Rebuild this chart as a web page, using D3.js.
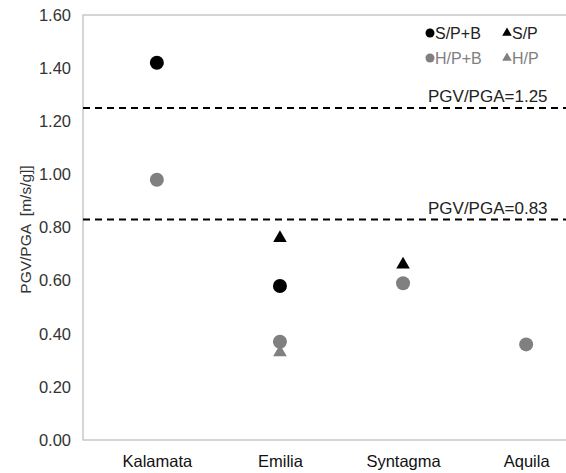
<!DOCTYPE html>
<html>
<head>
<meta charset="utf-8">
<script src="https://cdn.jsdelivr.net/npm/d3@7"></script>
<style>
  html, body { margin: 0; padding: 0; background: #fff; }
  svg { display: block; font-family: "Liberation Sans", Arial, sans-serif; }
</style>
</head>
<body>
<svg id="chart" width="566" height="473"></svg>
<script>
// Sites along the horizontal axis
const sites = ["Kalamata", "Emilia", "Syntagma", "Aquila"];

// PGV/PGA ratios per site and configuration (null = no value)
const spB = [1.42, 0.58, null, null];   // S/P+B  (black circle)
const sp  = [null, 0.76, 0.66, null];   // S/P    (black triangle)
const hpB = [0.98, 0.37, 0.59, 0.36];   // H/P+B  (grey circle)
const hp  = [null, 0.33, null, null];   // H/P    (grey triangle)

const yTicks = [0, 0.2, 0.4, 0.6, 0.8, 1.0, 1.2, 1.4, 1.6];

// Reference ratios drawn as dashed lines
const refValues = [1.25, 0.83];
const refLabels = ["PGV/PGA=1.25", "PGV/PGA=0.83"];

const svg = d3.select("#chart");
const plotLeft = 83, plotTop = 15, plotBottom = 440, plotRight = 600;

const x = d3.scalePoint().domain(sites).range([plotLeft, plotRight]).padding(0.6);
const y = d3.scaleLinear().domain([0, 1.6]).range([plotBottom, plotTop]);

const BLACK = "#000000", GREY = "#808080", FRAME = "#bfbfbf";

// Plot frame (right side runs past the view)
svg.append("rect")
  .attr("x", plotLeft).attr("y", plotTop)
  .attr("width", plotRight - plotLeft).attr("height", plotBottom - plotTop)
  .attr("fill", "none").attr("stroke", FRAME).attr("stroke-width", 1.3);

// Y axis labels
const yAxis = d3.axisLeft(y).tickValues(yTicks).tickFormat(d3.format(".2f")).tickSize(0).tickPadding(12);
const gy = svg.append("g").attr("transform", `translate(${plotLeft},0)`).call(yAxis);
gy.select(".domain").remove();
gy.selectAll("text").attr("font-size", 16.5).attr("fill", "#333").attr("font-family", "Liberation Sans, Arial, sans-serif");

// X axis labels
const xAxis = d3.axisBottom(x).tickSize(0).tickPadding(15);
const gx = svg.append("g").attr("transform", `translate(0,${plotBottom})`).call(xAxis);
gx.select(".domain").remove();
gx.selectAll("text").attr("font-size", 16.5).attr("fill", "#111").attr("font-family", "Liberation Sans, Arial, sans-serif");

// Y axis title
svg.append("text")
  .attr("transform", `translate(31,${(plotTop + plotBottom) / 2 + 2}) rotate(-90)`)
  .attr("text-anchor", "middle")
  .attr("font-size", 15.5).attr("fill", "#333")
  .attr("xml:space", "preserve")
  .text("PGV/PGA  [m/s/g]]");

// Reference lines and their labels
const refs = svg.append("g");
refValues.forEach((v, i) => {
  refs.append("line")
    .attr("x1", plotLeft).attr("x2", 566)
    .attr("y1", y(v)).attr("y2", y(v))
    .attr("stroke", BLACK).attr("stroke-width", 2)
    .attr("stroke-dasharray", "7,5");
  refs.append("text")
    .attr("x", 428).attr("y", y(v) - 6)
    .attr("font-size", 17).attr("fill", "#222")
    .text(refLabels[i]);
});

// Marker helpers
const tri = d3.symbol().type(d3.symbolTriangle).size(80);

function drawCircles(values, color) {
  svg.append("g").selectAll("circle")
    .data(sites.map((s, i) => ({ s, v: values[i] })).filter(d => d.v != null))
    .join("circle")
    .attr("cx", d => x(d.s)).attr("cy", d => y(d.v))
    .attr("r", 7).attr("fill", color);
}
function drawTriangles(values, color) {
  svg.append("g").selectAll("path")
    .data(sites.map((s, i) => ({ s, v: values[i] })).filter(d => d.v != null))
    .join("path")
    .attr("d", tri)
    .attr("transform", d => `translate(${x(d.s)},${y(d.v)})`)
    .attr("fill", color);
}

drawCircles(hpB, GREY);
drawTriangles(hp, GREY);
drawCircles(spB, BLACK);
drawTriangles(sp, BLACK);

// Legend
const legendItems = [
  { label: "S/P+B", shape: "circle", color: BLACK, lx: 430, ly: 33 },
  { label: "S/P",   shape: "triangle", color: BLACK, lx: 507, ly: 33 },
  { label: "H/P+B", shape: "circle", color: GREY, lx: 430, ly: 58 },
  { label: "H/P",   shape: "triangle", color: GREY, lx: 507, ly: 58 }
];
const lg = svg.append("g");
legendItems.forEach(d => {
  if (d.shape === "circle") {
    lg.append("circle").attr("cx", d.lx).attr("cy", d.ly).attr("r", 4.5).attr("fill", d.color);
  } else {
    lg.append("path").attr("d", d3.symbol().type(d3.symbolTriangle).size(40))
      .attr("transform", `translate(${d.lx},${d.ly})`).attr("fill", d.color);
  }
  lg.append("text").attr("x", d.lx + 5).attr("y", d.ly + 5.5)
    .attr("font-size", 16).attr("fill", d.color === BLACK ? "#222" : GREY)
    .text(d.label);
});
</script>
</body>
</html>
